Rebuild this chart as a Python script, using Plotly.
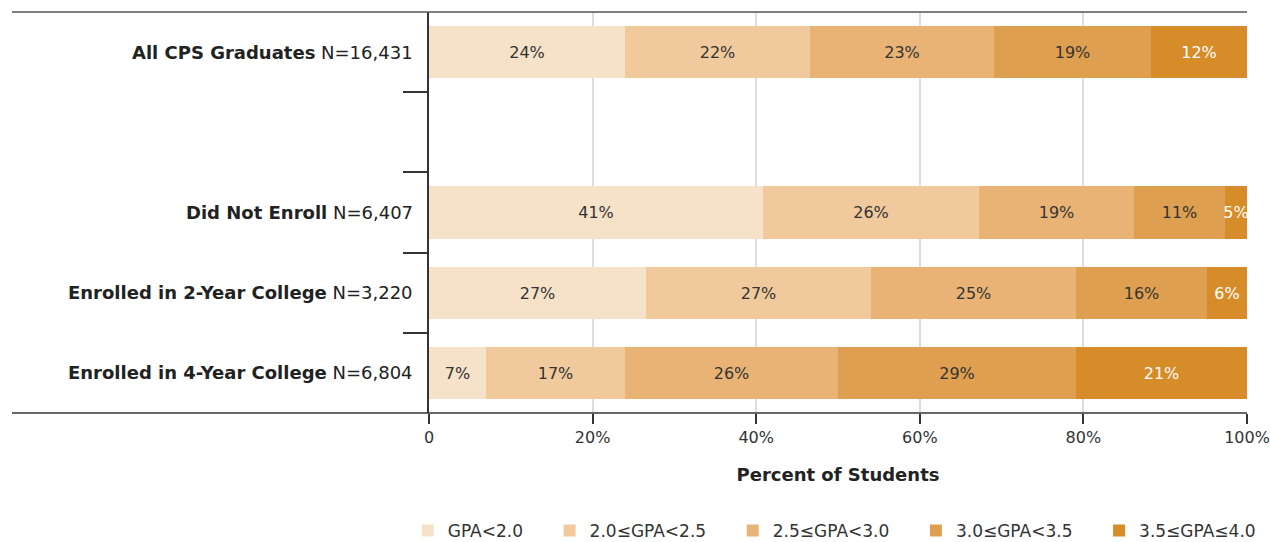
import plotly.graph_objects as go

groups = ["All CPS Graduates", "Did Not Enroll", "Enrolled in 2-Year College", "Enrolled in 4-Year College"]
counts = ["N=16,431", "N=6,407", "N=3,220", "N=6,804"]
rows = [0, 2, 3, 4]  # row 1 is an empty spacer row

series_names = ["GPA<2.0", "2.0≤GPA<2.5", "2.5≤GPA<3.0", "3.0≤GPA<3.5", "3.5≤GPA≤4.0"]
# bar widths as drawn (percent)
s1 = [24.0, 40.8, 26.5, 7.0]
s2 = [22.6, 26.4, 27.5, 17.0]
s3 = [22.5, 19.0, 25.1, 26.0]
s4 = [19.2, 11.1, 16.0, 29.1]
s5 = [11.7, 2.7, 4.9, 20.9]
# printed labels
l1 = ["24%", "41%", "27%", "7%"]
l2 = ["22%", "26%", "27%", "17%"]
l3 = ["23%", "19%", "25%", "26%"]
l4 = ["19%", "11%", "16%", "29%"]
l5 = ["12%", "5%", "6%", "21%"]

x_ticks = [0, 20, 40, 60, 80, 100]
x_tick_text = ["0", "20%", "40%", "60%", "80%", "100%"]

colors = ["#F6E2C8", "#F0CA9C", "#E8B375", "#DEA050", "#D78C2A"]
text_colors = ["#333333", "#333333", "#333333", "#333333", "#FFFFFF"]
FONT = "DejaVu Sans"

W, H = 1270, 542
ML, MR, MT, MB = 429, 23, 12, 129
PW = W - ML - MR

NB = "\u00a0" * 4  # extra spacing after each legend label (not needed on the last)

fig = go.Figure()
series = [s1, s2, s3, s4, s5]
labels = [l1, l2, l3, l4, l5]
for i, (name, vals, labs, col, tc) in enumerate(zip(series_names, series, labels, colors, text_colors)):
    fig.add_trace(go.Bar(
        y=rows, x=vals, orientation="h",
        name=name + (NB if i < len(series_names) - 1 else ""),
        marker=dict(color=col, line=dict(width=0)),
        text=labs, textposition="inside", insidetextanchor="middle",
        textangle=0, constraintext="none",
        insidetextfont=dict(color=tc, size=16, family=FONT),
        width=0.65,
    ))

for r, g, c in zip(rows, groups, counts):
    fig.add_annotation(
        x=0, xref="paper", y=r, yref="y", xanchor="right", yanchor="middle",
        xshift=-14, showarrow=False,
        text=f"<b>{g}</b> {c}", font=dict(size=18, color="#222222", family=FONT),
    )

# top and bottom rules extending left past the axis
for yv, colr in [(1, "#555555"), (0, "#333333")]:
    fig.add_shape(type="line", xref="paper", yref="paper",
                  x0=-(ML - 12) / PW, x1=1, y0=yv, y1=yv,
                  line=dict(color=colr, width=1.5), layer="above")

fig.update_layout(
    width=W, height=H,
    margin=dict(l=ML, r=MR, t=MT, b=MB, autoexpand=False),
    barmode="stack", bargap=0,
    plot_bgcolor="white", paper_bgcolor="white",
    font=dict(family=FONT, color="#222222"),
    uniformtext=dict(minsize=16, mode="show"),
    showlegend=True,
    legend=dict(orientation="h", x=-0.026, xanchor="left", y=-0.294, yanchor="middle",
                font=dict(size=17, color="#333333", family=FONT),
                traceorder="normal"),
    xaxis=dict(range=[0, 100], tickvals=x_ticks, ticktext=x_tick_text,
               showgrid=True, gridcolor="#DDDDDD", gridwidth=1.5,
               showline=False, zeroline=False,
               ticks="outside", ticklen=10, tickcolor="#333333", tickwidth=1.5,
               tickfont=dict(size=16, color="#333333", family=FONT),
               title=dict(text="<b>Percent of Students</b>", font=dict(size=18, color="#222222", family=FONT), standoff=22)),
    yaxis=dict(range=[4.5, -0.5], tickvals=[0.5, 1.5, 2.5, 3.5], showticklabels=False,
               ticks="outside", ticklen=24, tickcolor="#333333", tickwidth=1.5,
               showgrid=False, zeroline=False,
               showline=True, linecolor="#333333", linewidth=1.5),
)

fig.write_html("out.html", config={"displayModeBar": False},
               post_script="document.body.style.margin='0';document.body.style.overflow='hidden';")
